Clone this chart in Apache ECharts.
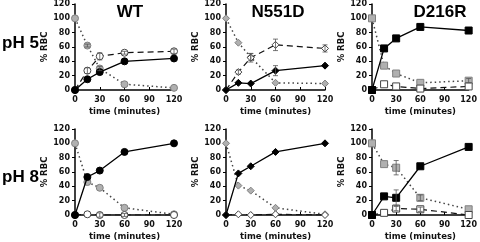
<!DOCTYPE html>
<html>
<head>
<meta charset="utf-8">
<script src="https://cdn.jsdelivr.net/npm/echarts@6/dist/echarts.min.js"></script>
<style>
  html, body { margin: 0; padding: 0; background: #fff; }
  #chart { width: 480px; height: 242px; }
</style>
</head>
<body>
<div id="chart"></div>
<script>
// time points (minutes)
const times = [0, 15, 30, 60, 120]
const xTicks = [0, 30, 60, 90, 120]
const yTicks = [0, 20, 40, 60, 80, 100, 120]
const rowLabels = ['pH 5', 'pH 8']
const panelTitles = ['WT', 'N551D', 'D216R']

// % RBC values, pH 5
const wt5Filled = [0, 15, 25, 40, 44]
const wt5Open = [0, 27, 47, 52, 54]
const wt5Gray = [100, 62, 30, 8, 3]
const n5Filled = [0, 10, 9, 27, 34]
const n5Open = [0, 25, 45, 63, 58]
const n5Gray = [100, 66, 46, 10, 9]
const d5Filled = [0, 58, 72, 88, 83]
const d5Open = [0, 8, 5, 2, 5]
const d5Gray = [100, 34, 23, 10, 13]

// % RBC values, pH 8
const wt8Filled = [0, 53, 62, 88, 100]
const wt8Open = [0, 1, 0, 0, 0]
const wt8Gray = [100, 46, 38, 10, 1]
const n8Filled = [0, 58, 68, 88, 100]
const n8Open = [0, 1, 0, 1, 0]
const n8Gray = [100, 41, 34, 10, 1]
const d8Filled = [0, 26, 24, 68, 95]
const d8Open = [0, 3, 9, 8, 0]
const d8Gray = [100, 71, 66, 24, 8]

// error bars (+/-)
const wt5OpenErr = [0, 4, 5, 2, 3]
const wt5GrayErr = [0, 2, 3, 0, 0]
const n5FilledErr = [0, 0, 0, 7, 0]
const n5OpenErr = [0, 3, 6, 8, 5]
const n5GrayErr = [0, 0, 5, 0, 0]
const d5GrayErr = [0, 0, 0, 0, 3]
const wt8OpenErr = [0, 0, 3, 2, 0]
const d8FilledErr = [0, 0, 11, 0, 0]
const d8GrayErr = [0, 0, 10, 4, 0]
const d8OpenErr = [0, 0, 3, 3, 0]

const panels = [
  { row: 0, col: 0, symbol: 'circle', filled: wt5Filled, open: wt5Open, gray: wt5Gray,
    err: [[wt5Open, wt5OpenErr], [wt5Gray, wt5GrayErr]] },
  { row: 0, col: 1, symbol: 'diamond', filled: n5Filled, open: n5Open, gray: n5Gray,
    err: [[n5Filled, n5FilledErr], [n5Open, n5OpenErr], [n5Gray, n5GrayErr]] },
  { row: 0, col: 2, symbol: 'rect', filled: d5Filled, open: d5Open, gray: d5Gray,
    err: [[d5Gray, d5GrayErr]] },
  { row: 1, col: 0, symbol: 'circle', filled: wt8Filled, open: wt8Open, gray: wt8Gray,
    err: [[wt8Open, wt8OpenErr]] },
  { row: 1, col: 1, symbol: 'diamond', filled: n8Filled, open: n8Open, gray: n8Gray,
    err: [] },
  { row: 1, col: 2, symbol: 'rect', filled: d8Filled, open: d8Open, gray: d8Gray,
    err: [[d8Filled, d8FilledErr], [d8Gray, d8GrayErr], [d8Open, d8OpenErr]] }
]

const gridLeft = [75, 226, 372]
const gridTop = [3, 129]
const gridW = 99
const gridH = 87

const axisFont = { fontFamily: 'DejaVu Sans', fontWeight: 'bold', fontSize: 8, color: '#111' }

const myEChart = echarts.init(document.getElementById('chart'), null, { renderer: 'canvas' })

const grids = []
const xAxes = []
const yAxes = []
const series = []

const zipPts = (vals) => times.map((t, i) => [t, vals[i]])

panels.forEach((p, idx) => {
  grids.push({ left: gridLeft[p.col], top: gridTop[p.row], width: gridW, height: gridH })
  xAxes.push({
    gridIndex: idx, type: 'value', min: 0, max: 120, interval: 30,
    name: 'time (minutes)', nameLocation: 'middle', nameGap: 17,
    nameTextStyle: Object.assign({}, axisFont, { fontSize: 8.5 }),
    axisLine: { lineStyle: { color: '#000', width: 1.5 } },
    axisTick: { inside: true, length: 3, lineStyle: { color: '#000' } },
    axisLabel: Object.assign({ margin: 6, showMinLabel: true, showMaxLabel: true,
      customValues: xTicks }, axisFont),
    splitLine: { show: false }
  })
  yAxes.push({
    gridIndex: idx, type: 'value', min: 0, max: 120, interval: 20,
    name: '% RBC', nameLocation: 'middle', nameGap: 25,
    nameTextStyle: Object.assign({}, axisFont, { fontSize: 8.5 }),
    axisLine: { show: true, lineStyle: { color: '#000', width: 1.5 } },
    axisTick: { show: true, length: 3, lineStyle: { color: '#000' } },
    axisLabel: Object.assign({ margin: 5 }, axisFont),
    splitLine: { show: false }
  })
  const size = 7
  // gray, dotted
  series.push({
    type: 'line', xAxisIndex: idx, yAxisIndex: idx, data: zipPts(p.gray),
    symbol: p.symbol, symbolSize: size, z: 2,
    lineStyle: { color: '#444', width: 1.5, type: [1.5, 3] },
    itemStyle: { color: '#b0b0b0', borderColor: '#808080', borderWidth: 1 }
  })
  // open, dashed
  series.push({
    type: 'line', xAxisIndex: idx, yAxisIndex: idx, data: zipPts(p.open),
    symbol: p.symbol, symbolSize: size, z: 3,
    lineStyle: { color: '#111', width: 1.2, type: [6, 4] },
    itemStyle: { color: '#fff', borderColor: '#444', borderWidth: 1 }
  })
  // filled, solid
  series.push({
    type: 'line', xAxisIndex: idx, yAxisIndex: idx, data: zipPts(p.filled),
    symbol: p.symbol, symbolSize: size, z: 4,
    lineStyle: { color: '#000', width: 1.3 },
    itemStyle: { color: '#000', borderColor: '#000', borderWidth: 1 }
  })
  // error bars
  p.err.forEach(([vals, errs]) => {
    const pts = times.map((t, i) => [t, vals[i], errs[i]]).filter(d => d[2] > 0)
    series.push({
      type: 'custom', xAxisIndex: idx, yAxisIndex: idx, data: pts, z: 5,
      renderItem: (params, api) => {
        const x = api.value(0), y = api.value(1), e = api.value(2)
        const hi = api.coord([x, y + e])
        const lo = api.coord([x, y - e])
        const cap = 2.5
        const st = { stroke: '#555', lineWidth: 0.8 }
        return {
          type: 'group',
          children: [
            { type: 'line', shape: { x1: hi[0], y1: hi[1], x2: lo[0], y2: lo[1] }, style: st },
            { type: 'line', shape: { x1: hi[0] - cap, y1: hi[1], x2: hi[0] + cap, y2: hi[1] }, style: st },
            { type: 'line', shape: { x1: lo[0] - cap, y1: lo[1], x2: lo[0] + cap, y2: lo[1] }, style: st }
          ]
        }
      }
    })
  })
})

const titleFont = { fontFamily: 'Liberation Sans', fontWeight: 'bold', fontSize: 17, color: '#000' }
const titles = [
  { text: panelTitles[0], left: 125, top: -1, textAlign: 'center', textStyle: titleFont },
  { text: panelTitles[1], left: 273, top: -1, textAlign: 'center', textStyle: titleFont },
  { text: panelTitles[2], left: 435, top: -1, textAlign: 'center', textStyle: titleFont },
  { text: rowLabels[0], left: -3, top: 30, textStyle: titleFont },
  { text: rowLabels[1], left: -3, top: 164, textStyle: titleFont }
]

const option = {
  animation: false,
  title: titles,
  grid: grids,
  xAxis: xAxes,
  yAxis: yAxes,
  series: series
}
myEChart.setOption(option)
window.addEventListener('resize', () => {
  myEChart?.resize()
})
</script>
</body>
</html>
